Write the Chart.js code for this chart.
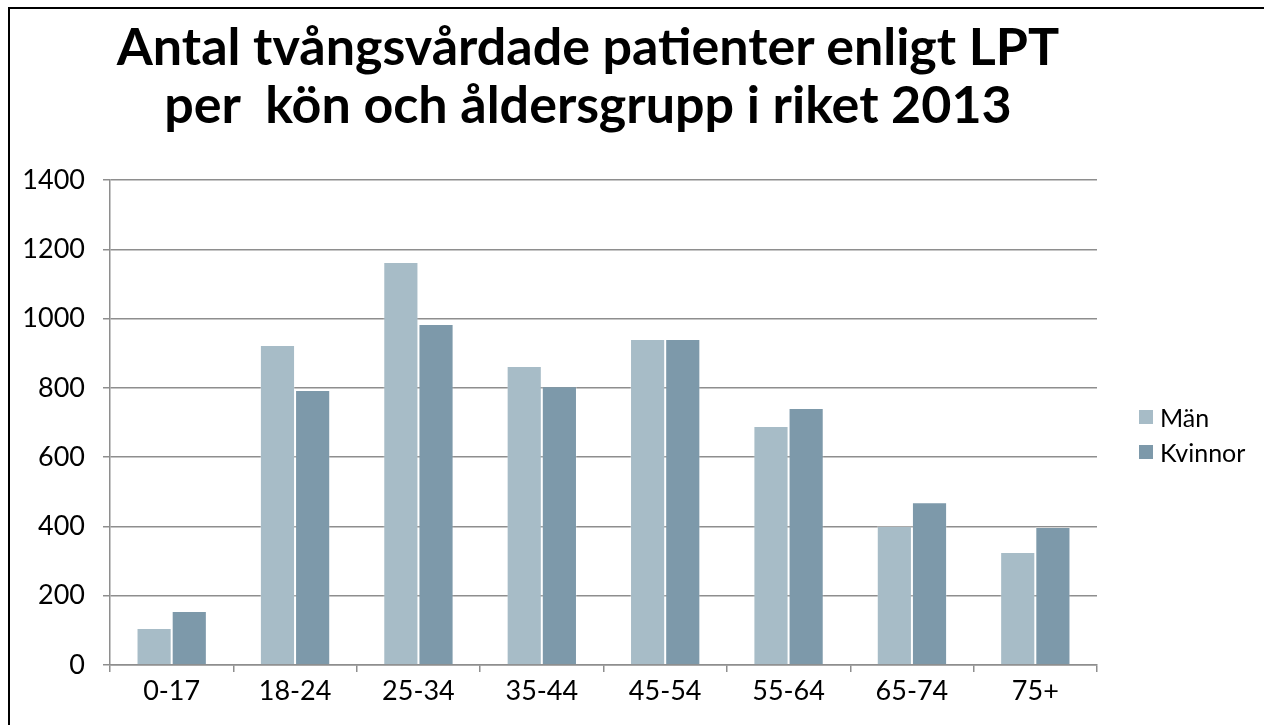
<!DOCTYPE html>
<html>
<head>
<meta charset="utf-8">
<script src="https://cdn.jsdelivr.net/npm/chart.js@4/dist/chart.umd.min.js"></script>
<style>
  html, body { margin: 0; padding: 0; background: #fff; overflow: hidden; }
  #wrap { position: relative; width: 1264px; height: 725px; overflow: hidden; }
  #frame { position: absolute; left: 8px; top: 7px; width: 1300px; height: 760px; border: 2px solid #000; box-sizing: border-box; }
  #title { position: absolute; left: 0; top: 16px; width: 1176px; text-align: center;
           font-family: Lato, sans-serif; font-weight: bold; font-size: 52px; line-height: 58px;
           color: #000; white-space: pre; }
  #chartBox { position: absolute; left: 0; top: 0; width: 1264px; height: 725px; }
  #legend { position: absolute; left: 1139px; top: 405px; font-family: Lato, sans-serif; font-size: 25px; color: #000; }
  #legend div { display: flex; align-items: center; height: 47px; margin-top: -12px; }
  #legend span.box { display: inline-block; width: 14px; height: 14px; margin-right: 7px; }
</style>
</head>
<body>
<div id="wrap">
  <div id="chartBox"><canvas id="chart"></canvas></div>
  <div id="title">Antal tvångsvårdade patienter enligt LPT
per  kön och åldersgrupp i riket 2013</div>
  <div id="legend"></div>
  <div id="frame"></div>
</div>
<script>
// Kategorier och värden
const categories = ['0-17', '18-24', '25-34', '35-44', '45-54', '55-64', '65-74', '75+'];
const man = [107, 924, 1163, 863, 941, 690, 401, 326];
const kvinnor = [156, 794, 984, 805, 941, 742, 470, 398];
const yTicks = [0, 200, 400, 600, 800, 1000, 1200, 1400];

const colors = {
  man: '#a7bcc7',
  kvinnor: '#7d99aa',
  axis: '#8e8e8e'
};

const tickFont = { family: 'Lato, sans-serif', size: 27 };

const chart = new Chart(document.getElementById('chart'), {
  type: 'bar',
  data: {
    labels: categories,
    datasets: [
      { label: 'Män', data: man, backgroundColor: colors.man, borderColor: 'rgba(255,255,255,0.25)', borderWidth: 1 },
      { label: 'Kvinnor', data: kvinnor, backgroundColor: colors.kvinnor, borderColor: 'rgba(255,255,255,0.25)', borderWidth: 1 }
    ]
  },
  options: {
    responsive: true,
    maintainAspectRatio: false,
    animation: false,
    layout: { padding: { top: 180, right: 167, left: 0, bottom: 0 } },
    plugins: {
      legend: { display: false },
      title: { display: false },
      tooltip: { enabled: false }
    },
    datasets: {
      bar: { categoryPercentage: 0.57, barPercentage: 1.0 }
    },
    scales: {
      x: {
        grid: { display: true, drawOnChartArea: false, drawTicks: true, tickLength: 7, color: colors.axis, lineWidth: 1.5 },
        border: { display: true, color: colors.axis, width: 1.5 },
        ticks: { color: '#000', font: tickFont, padding: 3 },
        afterFit: function(scale) { scale.height = 60; }
      },
      y: {
        min: 0,
        max: 1400,
        afterBuildTicks: function(scale) { scale.ticks = yTicks.map(v => ({ value: v })); },
        grid: { color: colors.axis, lineWidth: 1.5, tickLength: 7 },
        border: { display: true, color: colors.axis, width: 1.5 },
        ticks: { color: '#000', font: tickFont, padding: 18, callback: function(v) { return String(v); } },
        afterFit: function(scale) { scale.width = 110; }
      }
    }
  }
});

// HTML-legend byggd från dataseten
const legendEl = document.getElementById('legend');
chart.data.datasets.forEach(function(ds) {
  const item = document.createElement('div');
  const box = document.createElement('span');
  box.className = 'box';
  box.style.background = ds.backgroundColor;
  item.appendChild(box);
  item.appendChild(document.createTextNode(ds.label));
  legendEl.appendChild(item);
});
</script>
</body>
</html>
